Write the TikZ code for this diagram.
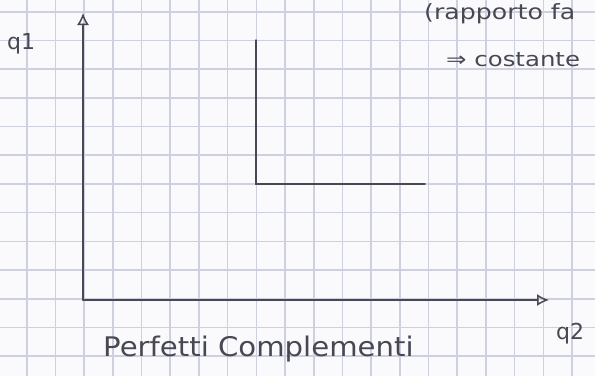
\documentclass[tikz,border=0pt]{standalone}
\usepackage{fontspec}
\setmainfont{DejaVu Sans}
\usetikzlibrary{arrows.meta}
\definecolor{paper}{RGB}{250,250,252}
\definecolor{gridc}{RGB}{205,208,222}
\definecolor{ink}{RGB}{72,72,84}
\tikzset{
  gridline/.style={draw=gridc, line width=1.6pt},
  inkline/.style={draw=ink, line width=1.5pt, line cap=round},
  axis/.style={inkline, -{Latex[open, length=12pt, width=12pt]}},
  hand/.style={text=ink, inner sep=0pt, font=\fontsize{22}{24}\selectfont},
}
\begin{document}
\begin{tikzpicture}[x=1pt,y=-1pt]
\useasboundingbox (0,0) rectangle (595,376);
\clip (0,0) rectangle (595,376);
\fill[paper] (0,0) rectangle (595,376);
\foreach \k in {-1,...,20} {
  \pgfmathsetmacro\xx{26.7+28.7*\k}
  \draw[gridline] (\xx,0) -- (\xx,376);
}
\foreach \k in {-1,...,13} {
  \pgfmathsetmacro\yy{11.7+28.7*\k}
  \draw[gridline] (0,\yy) -- (595,\yy);
}
% axes
\coordinate (O) at (83,300);
\coordinate (Ytop) at (83,13);
\coordinate (Xend) at (549,300);
\draw[axis] (O) -- (Ytop);
\draw[axis] (O) -- (Xend);
% L-shaped indifference curve
\coordinate (A) at (256,40);
\coordinate (B) at (256,184);
\coordinate (C) at (425,184);
\draw[inkline] (A) -- (B) -- (C);
% labels
\node[hand, anchor=west] (ylab) at (7,44) {q1};
\node[hand, anchor=west] (xlab) at (556,334) {q2};
\node[hand, anchor=west, font=\fontsize{27}{29}\selectfont, xscale=1.08] (title) at (103,349) {Perfetti Complementi};
\node[hand, anchor=west, font=\fontsize{21}{23}\selectfont, xscale=1.2] (top1) at (424,14) {(rapporto fa};
\node[hand, anchor=west, font=\fontsize{20}{22}\selectfont, xscale=1.22] (top2) at (446,60) {⇒ costante};
\end{tikzpicture}
\end{document}
